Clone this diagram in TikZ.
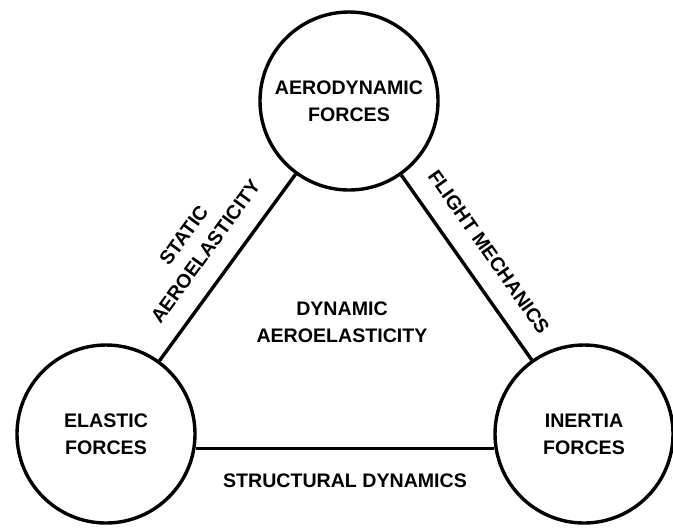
\documentclass[tikz,border=0pt]{standalone}
\usepackage{fontspec}
\setmainfont{Liberation Sans}
\usepackage{tikz}

\begin{document}
\begin{tikzpicture}[x=0.5pt,y=-0.5pt,
  force/.style={draw, circle, line width=1.7pt, minimum size=89pt, inner sep=0pt, align=center, font=\bfseries\fontsize{9.8}{13.5}\selectfont},
  link/.style={line width=1.7pt},
  lbl/.style={align=center, font=\bfseries\fontsize{9.8}{13.5}\selectfont}]
  %\draw[very thin,color=gray] (0,0) grid[step=50] (673,527);
  \useasboundingbox (0,0) rectangle (673,527);

  \node[force] (aero) at (349,101) {AERODYNAMIC\\FORCES};
  \node[force] (elastic) at (106,434) {ELASTIC\\FORCES};
  \node[force] (inertia) at (584,434) {INERTIA\\FORCES};

  \draw[link] (elastic) -- (aero) node[lbl, midway, sloped, above=6pt] {STATIC\\AEROELASTICITY};
  \draw[link] (aero) -- (inertia) node[lbl, midway, sloped, above=6pt] {FLIGHT MECHANICS};
  \draw[link] (elastic.-9) -- (inertia.189) node[lbl, midway, below=8.4pt] {STRUCTURAL DYNAMICS};

  \node[lbl] (dynamic) at (342,322) {DYNAMIC\\AEROELASTICITY};
\end{tikzpicture}
\end{document}
